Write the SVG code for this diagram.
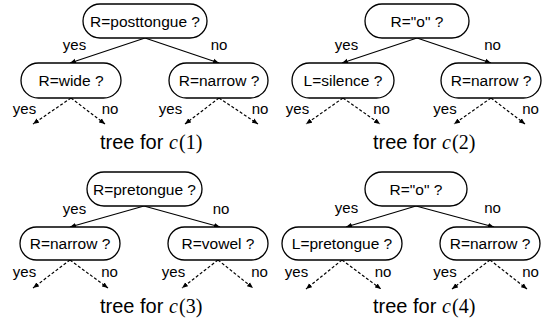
<svg xmlns="http://www.w3.org/2000/svg" width="548" height="320" viewBox="0 0 548 320">
<style>
.node rect{fill:#fff;stroke:#000;stroke-width:1.3}
.node text{font-family:"Liberation Sans",Arial,sans-serif;font-size:15.5px;text-anchor:middle;fill:#000}
.lbl{font-family:"Liberation Sans",Arial,sans-serif;font-size:15px;text-anchor:middle;fill:#000}
.edge{stroke:#000;stroke-width:1.2;fill:none;marker-end:url(#ah)}
.dash{stroke-dasharray:3,2}
.title{font-family:"Liberation Sans",Arial,sans-serif;font-size:20px;fill:#000}
.math{font-family:"Liberation Serif","Times New Roman",serif;font-size:20px}
</style>
<defs>
<marker id="ah" markerUnits="userSpaceOnUse" markerWidth="7" markerHeight="6" refX="6" refY="3" orient="auto">
<path d="M0,0.5 L6,3 L0,5.5 z" fill="#000"/>
</marker>
</defs>

<g id="connectors">
<!-- tree 1 -->
<path class="edge" d="M145,38 L70,63"/>
<path class="edge" d="M145,38 L219,63"/>
<path class="edge dash" d="M71,98 L33,124"/>
<path class="edge dash" d="M71,98 L105,124"/>
<path class="edge dash" d="M219,98 L185,124"/>
<path class="edge dash" d="M219,98 L258,124"/>
<!-- tree 2 -->
<path class="edge" d="M417,38 L342,63"/>
<path class="edge" d="M417,38 L491,63"/>
<path class="edge dash" d="M343,98 L306,124"/>
<path class="edge dash" d="M343,98 L380,124"/>
<path class="edge dash" d="M491,98 L454,124"/>
<path class="edge dash" d="M491,98 L525,124"/>
<!-- tree 3 -->
<path class="edge" d="M144,206 L70,227"/>
<path class="edge" d="M144,206 L220,227"/>
<path class="edge dash" d="M70,260 L33,288"/>
<path class="edge dash" d="M70,260 L108,288"/>
<path class="edge dash" d="M218,260 L182,288"/>
<path class="edge dash" d="M218,260 L253,288"/>
<!-- tree 4 -->
<path class="edge" d="M416,206 L346,227"/>
<path class="edge" d="M416,206 L494,227"/>
<path class="edge dash" d="M342,260 L306,289"/>
<path class="edge dash" d="M342,260 L381,289"/>
<path class="edge dash" d="M490,260 L452,289"/>
<path class="edge dash" d="M490,260 L527,289"/>
</g>

<g id="labels">
<text class="lbl" x="74.5" y="50">yes</text>
<text class="lbl" x="219" y="50">no</text>
<text class="lbl" x="24.5" y="114">yes</text>
<text class="lbl" x="110" y="114">no</text>
<text class="lbl" x="170.5" y="114">yes</text>
<text class="lbl" x="260" y="114">no</text>

<text class="lbl" x="346.5" y="50">yes</text>
<text class="lbl" x="492.5" y="50">no</text>
<text class="lbl" x="297.5" y="114">yes</text>
<text class="lbl" x="381.5" y="114">no</text>
<text class="lbl" x="445" y="114">yes</text>
<text class="lbl" x="530.5" y="114">no</text>

<text class="lbl" x="74.5" y="214">yes</text>
<text class="lbl" x="221" y="214">no</text>
<text class="lbl" x="24.5" y="277">yes</text>
<text class="lbl" x="109.5" y="277">no</text>
<text class="lbl" x="173.5" y="277">yes</text>
<text class="lbl" x="259.5" y="277">no</text>

<text class="lbl" x="346.5" y="213">yes</text>
<text class="lbl" x="492.5" y="213">no</text>
<text class="lbl" x="296.5" y="277">yes</text>
<text class="lbl" x="383" y="277">no</text>
<text class="lbl" x="445" y="277">yes</text>
<text class="lbl" x="530.5" y="277">no</text>
</g>

<!-- tree 1 nodes -->
<g id="t1-root" class="node"><rect x="83" y="4" width="124" height="34" rx="17"/><text x="145" y="27">R=posttongue ?</text></g>
<g id="t1-left" class="node"><rect x="21" y="63" width="100" height="35" rx="17.5"/><text x="71" y="86">R=wide ?</text></g>
<g id="t1-right" class="node"><rect x="169" y="63" width="99" height="35" rx="17.5"/><text x="219" y="86">R=narrow ?</text></g>
<text id="t1-title" class="title" x="100" y="149">tree for <tspan class="math" x="169" font-style="italic">c</tspan><tspan class="math" x="179">(1)</tspan></text>

<!-- tree 2 nodes -->
<g id="t2-root" class="node"><rect x="365" y="4" width="104" height="34" rx="17"/><text x="417" y="27">R="o" ?</text></g>
<g id="t2-left" class="node"><rect x="292" y="63" width="102" height="35" rx="17.5"/><text x="343" y="86">L=silence ?</text></g>
<g id="t2-right" class="node"><rect x="441" y="63" width="100" height="35" rx="17.5"/><text x="491" y="86">R=narrow ?</text></g>
<text id="t2-title" class="title" x="373" y="149">tree for <tspan class="math" x="442" font-style="italic">c</tspan><tspan class="math" x="452">(2)</tspan></text>

<!-- tree 3 nodes -->
<g id="t3-root" class="node"><rect x="87" y="172" width="115" height="34" rx="17"/><text x="144.5" y="195">R=pretongue ?</text></g>
<g id="t3-left" class="node"><rect x="20" y="227" width="100" height="33" rx="16.5"/><text x="70" y="249">R=narrow ?</text></g>
<g id="t3-right" class="node"><rect x="168" y="227" width="100" height="33" rx="16.5"/><text x="218" y="249">R=vowel ?</text></g>
<text id="t3-title" class="title" x="100" y="313">tree for <tspan class="math" x="169" font-style="italic">c</tspan><tspan class="math" x="179">(3)</tspan></text>

<!-- tree 4 nodes -->
<g id="t4-root" class="node"><rect x="365" y="172" width="102" height="34" rx="17"/><text x="416" y="195">R="o" ?</text></g>
<g id="t4-left" class="node"><rect x="282" y="227" width="120" height="33" rx="16.5"/><text x="342" y="249">L=pretongue ?</text></g>
<g id="t4-right" class="node"><rect x="440" y="227" width="100" height="33" rx="16.5"/><text x="490" y="249">R=narrow ?</text></g>
<text id="t4-title" class="title" x="373" y="313">tree for <tspan class="math" x="442" font-style="italic">c</tspan><tspan class="math" x="452">(4)</tspan></text>
</svg>
